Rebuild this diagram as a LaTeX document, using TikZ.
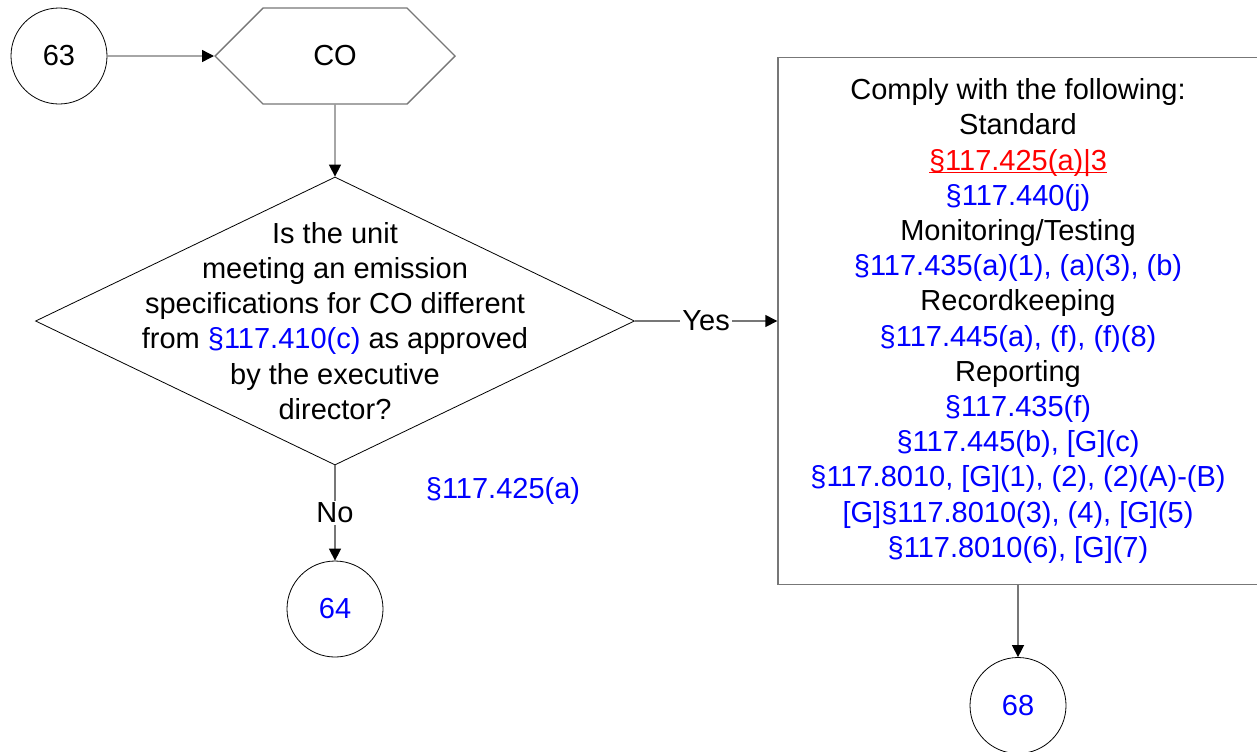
\documentclass[tikz,border=0pt]{standalone}
\usepackage{fontspec}
\setmainfont{Liberation Sans}
\usepackage{tikz}
\usetikzlibrary{shapes.geometric,shapes.symbols,arrows.meta}
\usepackage{xcolor}
\definecolor{linegray}{HTML}{777777}
\definecolor{refblue}{HTML}{0000FF}
\definecolor{refred}{HTML}{FF0000}
\newsavebox{\refbox}
\newcommand{\sref}[1]{\textcolor{refblue}{#1}}
\newcommand{\redref}[1]{\textcolor{refred}{\sbox{\refbox}{#1}\rlap{\rule[-1.6pt]{\wd\refbox}{0.6pt}}\usebox{\refbox}}}

\begin{document}
\begin{tikzpicture}[
			font=\fontsize{14.5}{17.6}\selectfont,
			conn/.style={draw=linegray,line width=0.7pt,-{Triangle[length=6pt,width=6pt,color=black]}},
			offpage/.style={circle,draw,line width=0.4pt,minimum size=48pt,inner sep=0pt},
			]
			\useasboundingbox (0,0) rectangle (628.5pt,-375.5pt);
			\node [offpage] (c63) at (29.5pt,-28pt) {63};
			\node [signal,signal to=west and east,signal pointer angle=90,draw=linegray,line width=0.7pt,
				minimum width=120pt,minimum height=48pt,inner sep=0pt,right of=c63,node distance=138pt] (co) {CO};
			\node [diamond,draw,line width=0.4pt,minimum width=299.5pt,minimum height=144pt,inner sep=0pt,
				below of=co,node distance=132.5pt] (dia) {};
			\node [align=center] (q) at (dia.center) {Is the unit\\
				meeting an emission\\ specifications for CO different\\ from \sref{§117.410(c)} as approved\\
				by the executive\\ director?};
			\node [rectangle,draw=linegray,line width=0.7pt,minimum width=240pt,minimum height=263.5pt,align=center,
				right of=dia,node distance=341.5pt] (rules) {Comply with the following:\\ Standard\\
				\redref{§117.425(a)|3}\\ \sref{§117.440(j)}\\ Monitoring/Testing\\
				\sref{§117.435(a)(1), (a)(3), (b)}\\ Recordkeeping\\ \sref{§117.445(a), (f), (f)(8)}\\ Reporting\\
				\sref{§117.435(f)}\\ \sref{§117.445(b), [G](c)}\\ \sref{§117.8010, [G](1), (2), (2)(A)-(B)}\\
				\sref{[G]§117.8010(3), (4), [G](5)}\\ \sref{§117.8010(6), [G](7)}};
			\node [offpage,text=refblue,below of=dia,node distance=144pt] (c64) {64};
			\node [offpage,text=refblue,below of=rules,node distance=192.25pt] (c68) {68};
			\node [text=refblue] (ref) at (251.5pt,-245.5pt) {§117.425(a)};
			\draw[conn] (c63) -- (co);
			\draw[conn] (co) -- (dia);
			\draw[conn] (dia) -- node[fill=white,inner sep=1pt] {Yes} (rules);
			\draw[conn] (dia) -- node[fill=white,inner sep=1pt] {No} (c64);
			\draw[conn] (rules) -- (c68);
		\end{tikzpicture}
\end{document}
